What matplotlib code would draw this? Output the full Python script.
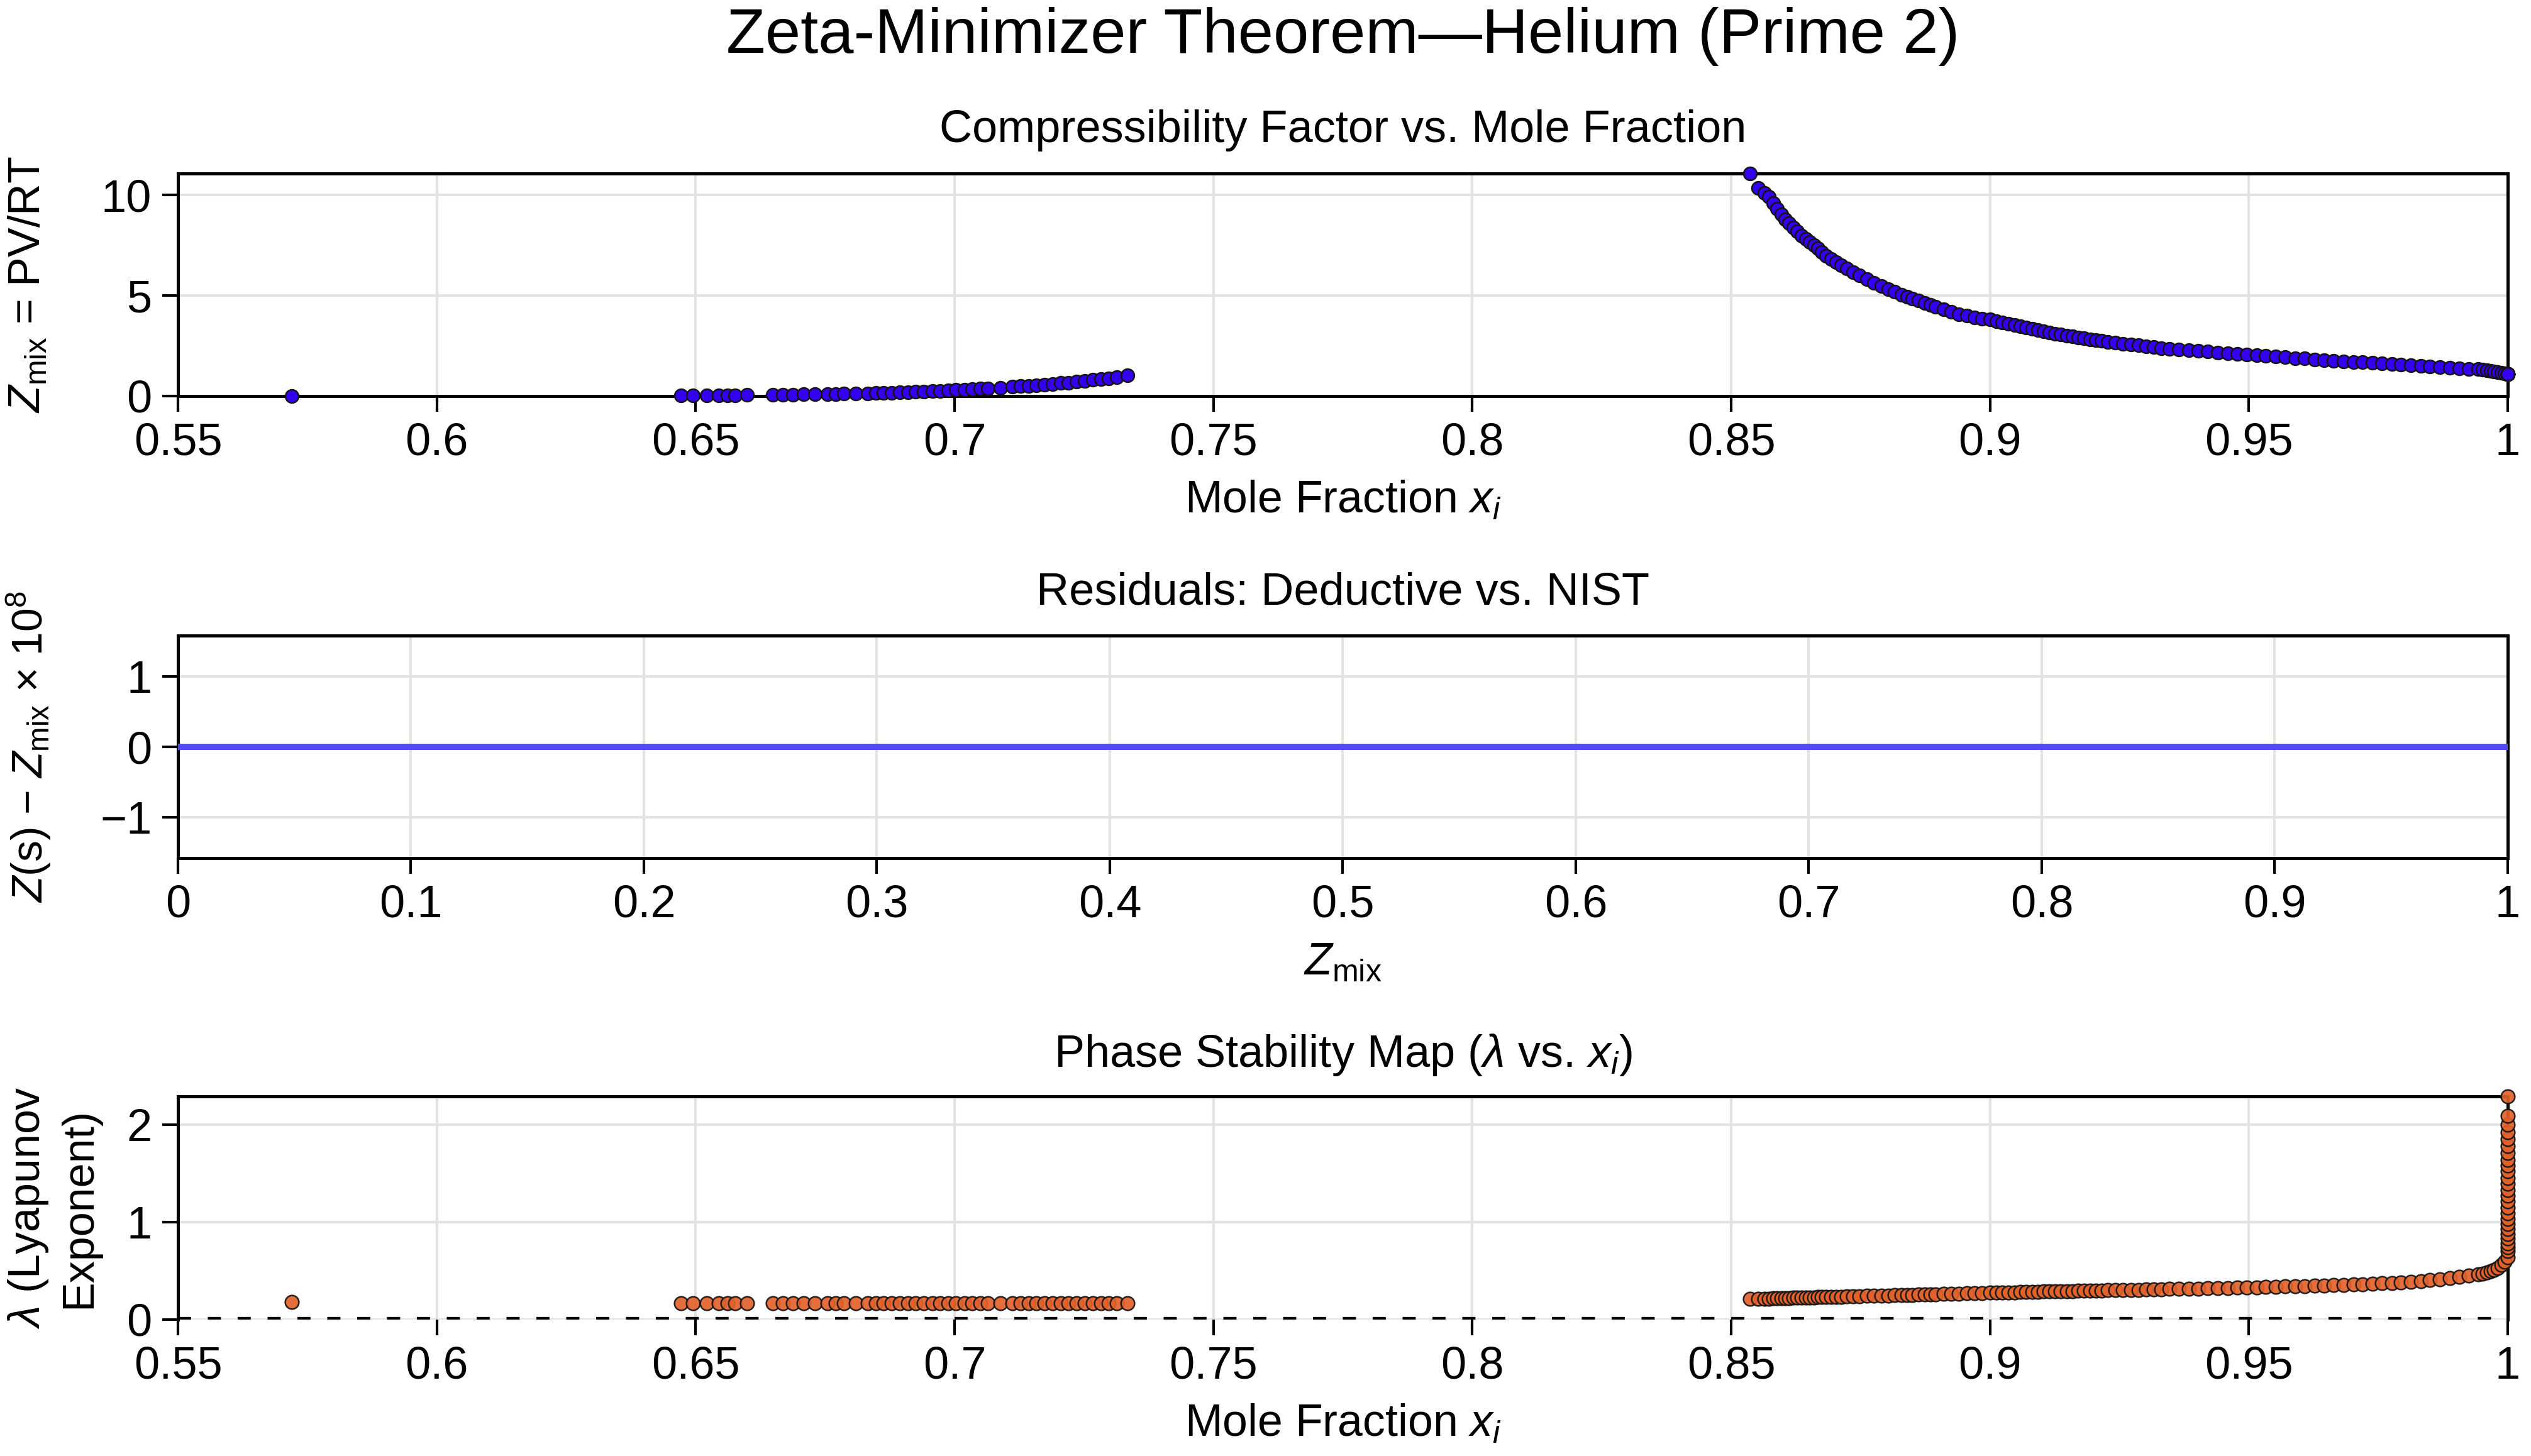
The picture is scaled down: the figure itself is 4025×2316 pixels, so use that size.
import matplotlib
matplotlib.use('Agg')
import matplotlib.pyplot as plt
from matplotlib.ticker import FuncFormatter

plt.rcParams['font.family'] = ['Liberation Sans', 'DejaVu Sans']
plt.rcParams['mathtext.fontset'] = 'custom'
plt.rcParams['mathtext.rm'] = 'Liberation Sans'
plt.rcParams['mathtext.it'] = 'Liberation Sans:italic'
plt.rcParams['axes.unicode_minus'] = True

# mole fractions, low branch (first point isolated)
x_low = [0.5720, 0.6472, 0.6495, 0.6522, 0.6545, 0.6561, 0.6576, 0.6599,
         0.6649, 0.6669, 0.6688, 0.6708, 0.6731, 0.6755, 0.6770, 0.6786,
         0.6809, 0.6832, 0.6848, 0.6863, 0.6879, 0.6894, 0.6910, 0.6925,
         0.6941, 0.6957, 0.6972, 0.6988, 0.7003, 0.7019, 0.7034, 0.7050,
         0.7065, 0.7089, 0.7112, 0.7127, 0.7143, 0.7158, 0.7174, 0.7189,
         0.7205, 0.7220, 0.7236, 0.7252, 0.7267, 0.7283, 0.7298, 0.7314, 0.7334]
z_low = [0.00, 0.03, 0.03, 0.035, 0.04, 0.04, 0.045, 0.05,
         0.06, 0.065, 0.07, 0.08, 0.085, 0.095, 0.10, 0.11,
         0.12, 0.13, 0.14, 0.15, 0.17, 0.18, 0.19, 0.21,
         0.22, 0.24, 0.26, 0.28, 0.30, 0.32, 0.34, 0.36,
         0.38, 0.42, 0.46, 0.49, 0.51, 0.54, 0.57, 0.60,
         0.64, 0.67, 0.71, 0.75, 0.80, 0.84, 0.89, 0.94, 1.02]
lam_low = [0.18, 0.165, 0.165, 0.165, 0.165, 0.165, 0.165, 0.165,
           0.165, 0.165, 0.165, 0.165, 0.165, 0.165, 0.165, 0.165,
           0.165, 0.165, 0.165, 0.165, 0.165, 0.165, 0.165, 0.165,
           0.165, 0.165, 0.165, 0.165, 0.165, 0.165, 0.165, 0.165,
           0.165, 0.165, 0.165, 0.165, 0.165, 0.165, 0.165, 0.165,
           0.165, 0.165, 0.165, 0.165, 0.165, 0.165, 0.165, 0.165, 0.165]

# high branch
x_high = [0.8536, 0.8552, 0.8565, 0.8573, 0.8581, 0.8589, 0.8597, 0.8605,
          0.8612, 0.8620, 0.8628, 0.8636, 0.8644, 0.8652, 0.8660, 0.8668,
          0.8675, 0.8683, 0.8693, 0.8703, 0.8713, 0.8724, 0.8736, 0.8748,
          0.8762, 0.8776, 0.8790, 0.8804, 0.8816, 0.8829, 0.8840, 0.8850,
          0.8862, 0.8874, 0.8885, 0.8895, 0.8910, 0.8925, 0.8940, 0.8955,
          0.8970, 0.8985, 0.9000, 0.9012, 0.9024, 0.9036, 0.9048, 0.9059,
          0.9070, 0.9082, 0.9093, 0.9104, 0.9115, 0.9126, 0.9137, 0.9149,
          0.9160, 0.9171, 0.9182, 0.9194, 0.9205, 0.9216, 0.9227, 0.9242,
          0.9257, 0.9272, 0.9287, 0.9302, 0.9316, 0.9331, 0.9346, 0.9365,
          0.9384, 0.9403, 0.9421, 0.9440, 0.9459, 0.9478, 0.9496, 0.9515,
          0.9533, 0.9552, 0.9570, 0.9589, 0.9608, 0.9627, 0.9645, 0.9664,
          0.9683, 0.9702, 0.9720, 0.9739, 0.9757, 0.9776, 0.9794, 0.9813,
          0.9832, 0.9850, 0.9869, 0.9888, 0.9906, 0.9925, 0.9943, 0.9952,
          0.9960, 0.9967, 0.9973, 0.9981, 0.9988, 0.9994, 1.0000]
z_high = [11.07, 10.36, 10.10, 9.90, 9.60, 9.32, 9.05, 8.80,
          8.60, 8.39, 8.18, 7.97, 7.82, 7.66, 7.50, 7.34,
          7.16, 6.98, 6.82, 6.67, 6.51, 6.35, 6.17, 5.99,
          5.81, 5.63, 5.47, 5.31, 5.18, 5.05, 4.94, 4.84,
          4.74, 4.64, 4.53, 4.43, 4.30, 4.18, 4.08, 3.99,
          3.92, 3.86, 3.80, 3.73, 3.67, 3.60, 3.54, 3.47,
          3.41, 3.35, 3.29, 3.23, 3.17, 3.11, 3.05, 3.00,
          2.96, 2.91, 2.87, 2.82, 2.78, 2.74, 2.70, 2.65,
          2.61, 2.56, 2.52, 2.47, 2.43, 2.39, 2.35, 2.31,
          2.28, 2.24, 2.21, 2.17, 2.14, 2.10, 2.07, 2.03,
          2.00, 1.96, 1.93, 1.89, 1.86, 1.82, 1.79, 1.76,
          1.73, 1.70, 1.68, 1.65, 1.62, 1.60, 1.57, 1.54,
          1.50, 1.47, 1.44, 1.41, 1.38, 1.35, 1.33, 1.30,
          1.28, 1.25, 1.23, 1.20, 1.16, 1.13, 1.09]
lam_high = [0.211, 0.213, 0.215, 0.216, 0.217, 0.218, 0.219, 0.221,
            0.222, 0.223, 0.224, 0.225, 0.226, 0.227, 0.228, 0.229,
            0.230, 0.231, 0.233, 0.234, 0.235, 0.237, 0.239, 0.240,
            0.242, 0.244, 0.246, 0.248, 0.250, 0.251, 0.253, 0.254,
            0.256, 0.258, 0.259, 0.261, 0.263, 0.265, 0.267, 0.269,
            0.271, 0.273, 0.275, 0.276, 0.278, 0.279, 0.280, 0.282,
            0.283, 0.284, 0.285, 0.287, 0.288, 0.289, 0.290, 0.291,
            0.292, 0.294, 0.295, 0.296, 0.297, 0.299, 0.300, 0.301,
            0.303, 0.304, 0.306, 0.308, 0.309, 0.311, 0.313, 0.315,
            0.317, 0.319, 0.321, 0.323, 0.325, 0.327, 0.329, 0.331,
            0.334, 0.336, 0.339, 0.342, 0.345, 0.348, 0.351, 0.354,
            0.357, 0.360, 0.364, 0.368, 0.372, 0.377, 0.382, 0.388,
            0.395, 0.404, 0.415, 0.426, 0.437, 0.449, 0.462, 0.473,
            0.485, 0.497, 0.510, 0.532, 0.560, 0.595, 0.640]

# points piled up at x -> 1
x_edge = [0.99999, 0.99999, 0.99999, 0.99999, 0.99999, 0.99999, 0.99999,
          1.0, 1.0, 1.0, 1.0, 1.0, 1.0, 1.0, 1.0, 1.0, 1.0, 1.0, 1.0,
          1.0, 1.0, 1.0, 1.0, 1.0, 1.0]
z_edge = [1.08, 1.08, 1.08, 1.08, 1.08, 1.08, 1.08, 1.08, 1.08, 1.08,
          1.08, 1.08, 1.08, 1.08, 1.08, 1.08, 1.08, 1.08, 1.08, 1.08,
          1.08, 1.08, 1.08, 1.08, 1.08]
lam_edge = [0.70, 0.74, 0.78, 0.83, 0.88, 0.93, 0.98, 1.03, 1.09, 1.15,
            1.21, 1.27, 1.33, 1.39, 1.45, 1.52, 1.58, 1.64, 1.71, 1.78,
            1.85, 1.92, 2.00, 2.09, 2.29]

# residual panel
z_res_x = [0.0, 1.0]
z_res_y = [0.0, 0.0]

x_all = x_low + x_high + x_edge
z_all = z_low + z_high + z_edge
lam_all = lam_low + lam_high + lam_edge

fmt = FuncFormatter(lambda v, p: f'{v:g}'.replace('-', '\u2212'))
x_ticks = [0.55, 0.6, 0.65, 0.7, 0.75, 0.8, 0.85, 0.9, 0.95, 1.0]

fig = plt.figure(figsize=(4025 / 300, 2316 / 300), dpi=300)
ax1 = fig.add_axes([0.0703, 0.7280, 0.9205, 0.1528])
ax2 = fig.add_axes([0.0703, 0.4106, 0.9205, 0.1528])
ax3 = fig.add_axes([0.0703, 0.0937, 0.9205, 0.1533])

for ax in (ax1, ax2, ax3):
    ax.grid(True, color='#e3e3e3', lw=1.0, zorder=0)
    ax.set_axisbelow(True)
    for s in ax.spines.values():
        s.set_linewidth(1.2)
    ax.tick_params(direction='out', length=6, width=1.0, labelsize=17.3, pad=4)
    ax.xaxis.set_major_formatter(fmt)
    ax.yaxis.set_major_formatter(fmt)

title_kw = dict(ha='center', va='baseline', fontsize=17.3)

# panel 1
ax1.scatter(x_all, z_all, s=25, c='#3300f0', edgecolors='#141414',
            linewidths=0.6, zorder=3, clip_on=False)
ax1.set_xlim(0.55, 1.0)
ax1.set_ylim(min(z_all), max(z_all))
ax1.set_xticks(x_ticks)
ax1.set_yticks([0, 5, 10])
ax1.text(0.5, 1.141, 'Compressibility Factor vs. Mole Fraction',
         transform=ax1.transAxes, **title_kw)
ax1.set_xlabel('Mole Fraction $x_i$', fontsize=17.2, labelpad=6)
ax1.set_ylabel(r'$Z_{\mathrm{mix}}$ = PV/RT', fontsize=16.8, va='center')
ax1.yaxis.set_label_coords(-0.064, 0.5)

# panel 2
ax2.plot(z_res_x, z_res_y, color='#5349fb', lw=2.4, zorder=3)
ax2.set_xlim(0, 1)
ax2.set_ylim(-1.58, 1.58)
ax2.set_xticks([0, 0.1, 0.2, 0.3, 0.4, 0.5, 0.6, 0.7, 0.8, 0.9, 1.0])
ax2.set_yticks([-1, 0, 1])
ax2.text(0.5, 1.141, 'Residuals: Deductive vs. NIST',
         transform=ax2.transAxes, **title_kw)
ax2.set_xlabel(r'$Z_{\mathrm{mix}}$', fontsize=17.2, labelpad=6)
ax2.set_ylabel(r'$Z$(s) $-$ $Z_{\mathrm{mix}}$ $\times$ 10$^{8}$',
               fontsize=16.3, va='center')
ax2.yaxis.set_label_coords(-0.064, 0.5)

# panel 3
ax3.scatter(x_all, lam_all, s=27, c='#e2622b', edgecolors='#141414',
            linewidths=0.6, alpha=0.92, zorder=3, clip_on=False)
ax3.axhline(0, color='black', lw=2.0, ls=(0, (2.5, 3.2)), zorder=2)
ax3.spines['bottom'].set_visible(False)
ax3.set_xlim(0.55, 1.0)
ax3.set_ylim(0, max(lam_all))
ax3.set_xticks(x_ticks)
ax3.set_yticks([0, 1, 2])
ax3.text(0.5, 1.133, r'Phase Stability Map ($\lambda$ vs. $x_i$)',
         transform=ax3.transAxes, **title_kw)
ax3.set_xlabel('Mole Fraction $x_i$', fontsize=17.2, labelpad=6)
ax3.set_ylabel('$\\lambda$ (Lyapunov\nExponent)', fontsize=16.8, va='center',
               linespacing=1.25)
ax3.yaxis.set_label_coords(-0.0535, 0.5)

# main title centred over the axes column
fig.text(0.0703 + 0.9205 / 2, 1 - 58 / 2316,
         'Zeta-Minimizer Theorem\u2014Helium (Prime 2)', fontsize=24.3,
         ha='center', va='center')

fig.savefig('out.png', dpi=300)
